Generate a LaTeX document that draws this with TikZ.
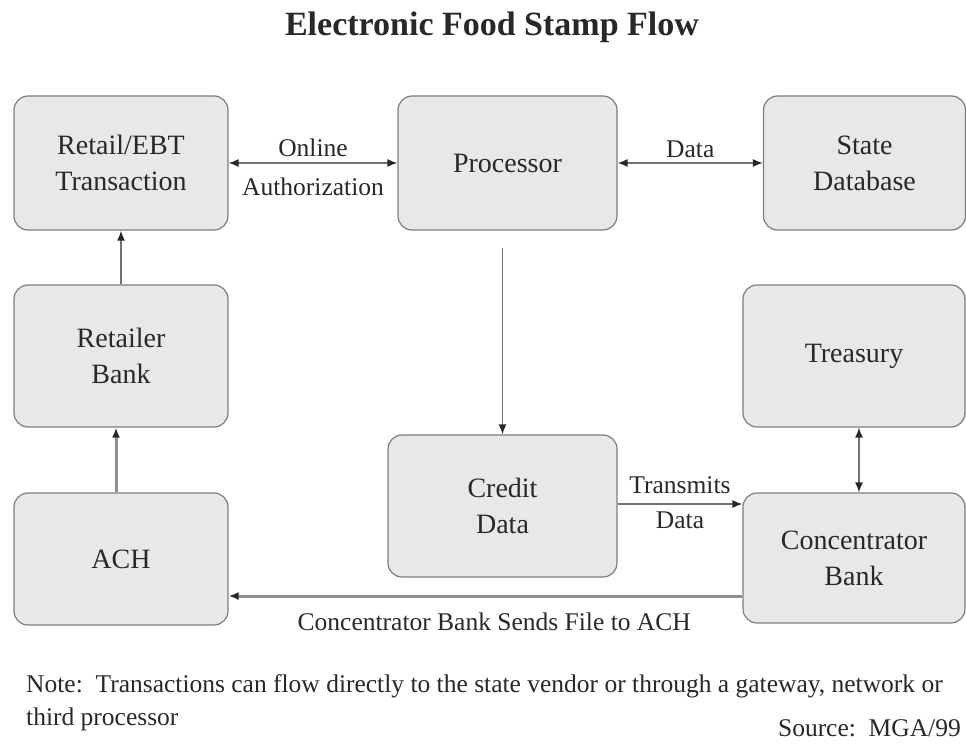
\documentclass[tikz,border=0pt]{standalone}
\usepackage{fontspec}
\setmainfont{Liberation Serif}
\usetikzlibrary{arrows.meta}
\definecolor{boxfill}{RGB}{232,232,232}
\definecolor{boxline}{RGB}{125,125,125}
\definecolor{txt}{RGB}{40,40,40}
\definecolor{arrline}{RGB}{115,115,115}
\tikzstyle{box} = [rectangle, rounded corners=14pt, minimum width=214pt, minimum height=134pt, align=center, draw=boxline, line width=1.2pt, fill=boxfill, text=txt, font=\fontsize{28}{36}\selectfont]
\tikzstyle{arrow} = [line width=1.4pt, draw=arrline, -{Latex[length=10pt,width=8pt,color=txt]}]
\tikzstyle{dblarrow} = [line width=1.4pt, draw=arrline, {Latex[length=10pt,width=8pt,color=txt]}-{Latex[length=10pt,width=8pt,color=txt]}]
\tikzstyle{heavyarrow} = [line width=3pt, draw=arrline!80, -{Latex[length=10pt,width=8pt,color=txt]}]
\tikzstyle{lbl} = [text=txt, inner sep=2pt, font=\fontsize{25.5}{33}\selectfont]

\begin{document}
\begin{tikzpicture}
	\useasboundingbox (0,0) rectangle (966pt,-744pt);
	\node (title) at (492pt,-35pt) [anchor=base, text=txt, font=\bfseries\fontsize{34}{40}\selectfont] {Electronic Food Stamp Flow};
	\node (retail) at (121pt,-163pt) [box] {Retail/EBT\\Transaction};
	\node (proc) [box, minimum width=219pt, node distance=386.5pt, right of=retail] {Processor};
	\node (state) [box, minimum width=202pt, node distance=357pt, right of=proc] {State\\Database};
	\node (rbank) [box, minimum height=142pt, node distance=193pt, below of=retail] {Retailer\\Bank};
	\node (ach) [box, minimum height=132pt, node distance=203pt, below of=rbank] {ACH};
	\node (credit) [box, minimum width=229pt, minimum height=142pt, node distance=343pt, below of=proc, xshift=-5pt] {Credit\\Data};
	\node (treasury) [box, minimum width=222pt, minimum height=142pt, node distance=193pt, below of=state, xshift=-10.5pt] {Treasury};
	\node (conc) [box, minimum width=222pt, minimum height=130pt, node distance=202pt, below of=treasury] {Concentrator\\Bank};
	\draw [dblarrow] (retail) -- node [lbl, above=4pt] {Online} node [lbl, below=12pt] {Authorization} (proc);
	\draw [dblarrow] (proc) -- node [lbl, above=3pt] {Data} (state);
	\draw [arrow] (rbank) -- (retail);
	\draw [heavyarrow] ([xshift=-5pt]ach.north) -- ([xshift=-5pt]rbank.south);
	\draw [arrow] ([yshift=-17pt]credit.north |- proc.south) -- (credit.north);
	\draw [arrow] ([yshift=2pt]credit.east) -- node [lbl, above=8pt] {Transmits} node [lbl, below=5pt] {Data} ([yshift=2pt]credit.east -| conc.west);
	\draw [dblarrow] ([xshift=5pt]treasury.south) -- ([xshift=5pt]conc.north);
	\draw [heavyarrow] ([yshift=-38pt]conc.west) -- node [lbl, below=13pt, pos=0.483] {Concentrator Bank Sends File to ACH} ([yshift=-38pt]conc.west -| ach.east);
	\node (note) at (24pt,-672pt) [lbl, anchor=north west, align=left] {Note:~~Transactions can flow directly to the state vendor or through a gateway, network or\\third processor};
	\node (source) at (963pt,-736pt) [lbl, anchor=base east] {Source:~~MGA/99};
\end{tikzpicture}
\end{document}
